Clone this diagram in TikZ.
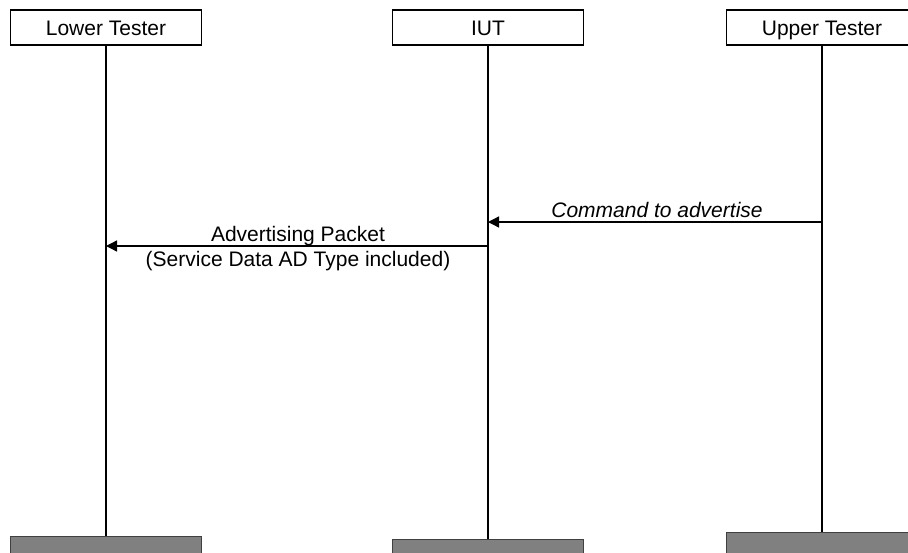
\documentclass[tikz,border=0pt]{standalone}
\usepackage{fontspec}
\setmainfont{Liberation Sans}
\usetikzlibrary{arrows.meta}
\begin{document}
\begin{tikzpicture}[x=1pt,y=-1pt,
  txt/.style={font=\fontsize{21}{25}\selectfont,text height=15pt,text depth=0pt},
  head/.style={txt,draw=black,line width=1.3pt,fill=white,minimum width=191pt,minimum height=35pt,inner sep=0pt},
  foot/.style={draw=black!75,line width=1pt,fill=black!50,minimum width=191pt,minimum height=40pt,inner sep=0pt,anchor=north},
  life/.style={line width=1.5pt},
  msg/.style={line width=1.3pt,-{Triangle[length=11pt,width=11pt]}},
  lbl/.style={txt,inner sep=0pt}]
\clip (0,0) rectangle (908,552);
\fill[white] (0,0) rectangle (908,552);
\node[head] (lt) at (106,27.5) {Lower Tester};
\node[head] (iut) at (488,27.5) {IUT};
\node[head] (ut) at (822,27.5) {Upper Tester};
\node[foot] (ltf) at (106,536) {};
\node[foot] (iutf) at (488,539) {};
\node[foot] (utf) at (822,532) {};
\draw[life] (lt.south) -- (ltf.north);
\draw[life] (iut.south) -- (iutf.north);
\draw[life] (ut.south) -- (utf.north);
\coordinate (c1s) at (822,222);
\coordinate (c1e) at (488,222);
\draw[msg] (c1s) -- (c1e);
\node[lbl,font=\fontsize{21}{25}\selectfont\itshape] (c1l) at (657,209.5) {Command to advertise};
\coordinate (c2s) at (488,246);
\coordinate (c2e) at (106,246);
\draw[msg] (c2s) -- (c2e);
\node[lbl] (c2a) at (298,234) {Advertising Packet};
\node[lbl] (c2b) at (298,259) {(Service Data AD Type included)};
\end{tikzpicture}
\end{document}
